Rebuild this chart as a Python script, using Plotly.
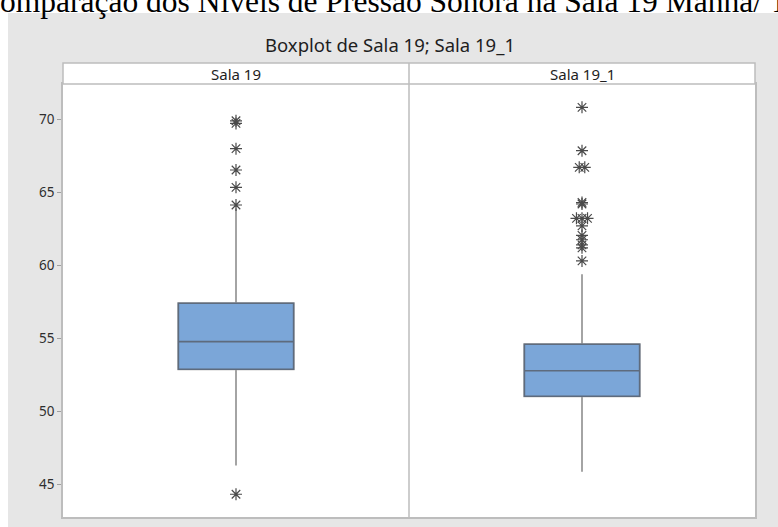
import plotly.graph_objects as go

# Sound pressure level summaries (dB) for the two sessions
groups = ["Sala 19", "Sala 19_1"]
q1 = [52.88, 51.03]
median = [54.77, 52.78]
q3 = [57.40, 54.59]
whisker_low = [46.28, 45.86]
whisker_high = [63.90, 59.38]

outliers_sala19 = [44.32, 64.13, 65.34, 66.53, 67.99, 69.72, 69.90]
outliers_sala19_1 = [70.82, 67.85, 66.71, 66.71, 64.30, 64.20, 63.22, 63.22, 63.22,
                     62.70, 62.05, 61.75, 61.40, 61.20, 60.30]

y_ticks = [45, 50, 55, 60, 65, 70]

BOX_FILL = "#7BA6D8"
BOX_EDGE = "#5E6B7D"
WHISKER = "#A4A4A4"
FRAME = "#BDBDBD"
PANEL_BG = "#E6E6E6"
FONT = "Noto Sans"

positions = list(range(len(groups)))


def spread_ties(center, values, step=0.016):
    """Place tied outliers side by side around the box centre."""
    counts = {}
    for v in values:
        counts[v] = counts.get(v, 0) + 1
    seen = {}
    xs = []
    for v in values:
        n = counts[v]
        k = seen.get(v, 0)
        seen[v] = k + 1
        xs.append(center + (k - (n - 1) / 2) * step)
    return xs


fig = go.Figure()

# Whiskers (light grey) drawn first, full range
fig.add_trace(go.Box(
    x=positions, q1=q1, median=median, q3=q3,
    lowerfence=whisker_low, upperfence=whisker_high,
    width=0.333, whiskerwidth=0,
    line=dict(color=WHISKER, width=2),
    fillcolor="rgba(0,0,0,0)",
    boxpoints=False, showlegend=False, hoverinfo="skip",
))

# Interquartile box with median on top
fig.add_trace(go.Box(
    x=positions, q1=q1, median=median, q3=q3,
    lowerfence=q1, upperfence=q3,
    width=0.333, whiskerwidth=0,
    line=dict(color=BOX_EDGE, width=1.6),
    fillcolor=BOX_FILL,
    boxpoints=False, showlegend=False,
))

for pos, vals in zip(positions, [outliers_sala19, outliers_sala19_1]):
    fig.add_trace(go.Scatter(
        x=spread_ties(pos, vals), y=vals, mode="markers",
        marker=dict(symbol="asterisk-open", size=10, color="#4A4A4A",
                    line=dict(color="#4A4A4A", width=1.2)),
        showlegend=False,
    ))

annotations = [
    dict(text="Comparação dos Níveis de Pressão Sonora na Sala 19 Manhã/ Tarde",
         xref="paper", yref="paper", x=-0.125, y=1.146,
         xanchor="left", yanchor="bottom", showarrow=False,
         font=dict(family="Liberation Serif", size=31.5, color="#000000")),
    dict(text="Boxplot de Sala 19; Sala 19_1",
         xref="paper", yref="paper", x=0.4725, y=1.092,
         xanchor="center", yanchor="middle", showarrow=False,
         font=dict(family=FONT, size=18.5, color="#1E1E1E")),
]
for pos, name in zip(positions, groups):
    annotations.append(dict(
        text=name, xref="x", yref="paper", x=pos, y=1.0242,
        xanchor="center", yanchor="middle", showarrow=False,
        font=dict(family=FONT, size=15, color="#1E1E1E")))

shapes = [
    # white page strip above the graph region
    dict(type="rect", xref="paper", yref="paper",
         x0=-0.2, x1=1.2, y0=1.164, y1=1.4,
         fillcolor="white", line=dict(width=0), layer="below"),
    # white page strip left of the graph region
    dict(type="rect", xref="paper", yref="paper",
         x0=-0.2, x1=-0.0795, y0=-0.2, y1=1.4,
         fillcolor="white", line=dict(width=0), layer="below"),
    # facet header strip
    dict(type="rect", xref="paper", yref="paper",
         x0=0, x1=1, y0=1, y1=1.0485,
         fillcolor="white", line=dict(color=FRAME, width=1.5)),
    # divider between the two panels
    dict(type="line", xref="x", yref="paper",
         x0=0.5, x1=0.5, y0=0, y1=1.0485,
         line=dict(color=FRAME, width=1.5)),
]

fig.update_layout(
    width=778, height=527,
    margin=dict(l=63, r=23, t=84, b=10),
    paper_bgcolor=PANEL_BG, plot_bgcolor="white",
    boxmode="overlay",
    annotations=annotations, shapes=shapes,
    xaxis=dict(range=[-0.5, 1.5], showticklabels=False, ticks="",
               showgrid=False, zeroline=False,
               showline=True, mirror=True, linecolor=FRAME, linewidth=1.5),
    yaxis=dict(range=[42.76, 72.42], tickvals=y_ticks,
               ticks="outside", ticklen=4, tickcolor="#A0A0A0", tickwidth=1,
               ticklabelstandoff=0,
               tickfont=dict(family=FONT, size=13.5, color="#2E2E2E"),
               showgrid=False, zeroline=False,
               showline=True, mirror=True, linecolor=FRAME, linewidth=1.5),
)

fig.write_html("out.html")
